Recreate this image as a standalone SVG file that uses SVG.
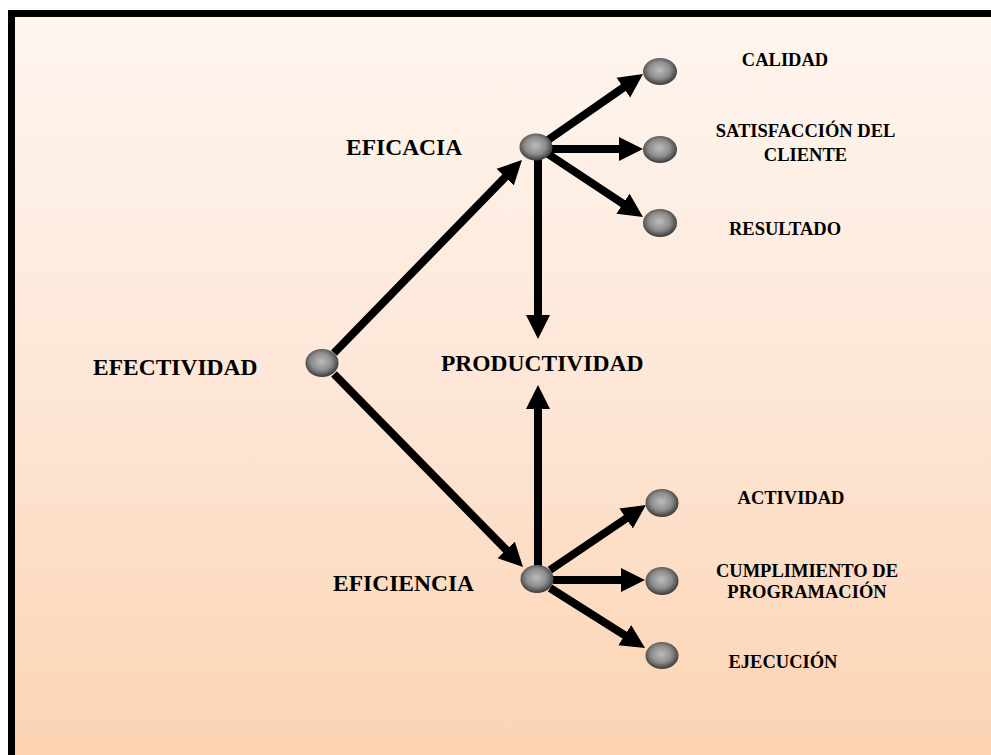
<svg xmlns="http://www.w3.org/2000/svg" width="991" height="755" viewBox="0 0 991 755">
  <defs>
    <linearGradient id="bg" x1="0" y1="0" x2="0" y2="1">
      <stop offset="0" stop-color="#FEF6F0"/>
      <stop offset="0.5" stop-color="#FDE6D6"/>
      <stop offset="1" stop-color="#FCD3B2"/>
    </linearGradient>
    <radialGradient id="ball" cx="0.48" cy="0.45" r="0.58">
      <stop offset="0" stop-color="#bdbdbd"/>
      <stop offset="0.55" stop-color="#8c8c8c"/>
      <stop offset="1" stop-color="#2e2e2e"/>
    </radialGradient>
    <marker id="ah" markerUnits="userSpaceOnUse" markerWidth="26" markerHeight="26" viewBox="0 -13 26 26" refX="4" refY="0" orient="auto">
      <path d="M0,-12 L24,0 L0,12 z" fill="#000"/>
    </marker>
    <style>
      .link { stroke: #000; stroke-width: 8; fill: none; marker-end: url(#ah); }
      .node { fill: url(#ball); }
      .big { font-family: "Liberation Serif", "Times New Roman", serif; font-weight: bold; font-size: 23.5px; fill: #000; }
      .small { font-family: "Liberation Serif", "Times New Roman", serif; font-weight: bold; font-size: 18.5px; fill: #000; text-anchor: middle; }
    </style>
  </defs>

  <!-- frame and background -->
  <rect x="8" y="10" width="1000" height="760" fill="#000"/>
  <rect x="15" y="17" width="990" height="750" fill="url(#bg)"/>

  <g id="connectors">
    <line class="link" x1="334" y1="353" x2="508" y2="174.3"/>
    <line class="link" x1="334" y1="374" x2="509" y2="552.7"/>
    <line class="link" x1="548" y1="140" x2="626.6" y2="85.4"/>
    <line class="link" x1="550" y1="149" x2="623" y2="149"/>
    <line class="link" x1="548" y1="154" x2="626.3" y2="205.9"/>
    <line class="link" x1="538" y1="158" x2="538" y2="319"/>
    <line class="link" x1="538" y1="567" x2="538" y2="405"/>
    <line class="link" x1="550" y1="570" x2="629.4" y2="516.2"/>
    <line class="link" x1="553" y1="580" x2="625" y2="580"/>
    <line class="link" x1="550" y1="588" x2="628.1" y2="637.3"/>
  </g>

  <g id="efectividad">
    <ellipse class="node" cx="322" cy="363" rx="16.5" ry="14"/>
    <text class="big" x="93" y="375">EFECTIVIDAD</text>
  </g>
  <g id="eficacia">
    <ellipse class="node" cx="536" cy="147" rx="16.5" ry="13.5"/>
    <text class="big" x="346" y="155">EFICACIA</text>
  </g>
  <g id="eficiencia">
    <ellipse class="node" cx="537" cy="579" rx="16.5" ry="14"/>
    <text class="big" x="333" y="591">EFICIENCIA</text>
  </g>
  <g id="productividad">
    <text class="big" x="441" y="371">PRODUCTIVIDAD</text>
  </g>
  <g id="calidad">
    <ellipse class="node" cx="660" cy="71.5" rx="17" ry="13.5"/>
    <text class="small" x="785" y="66">CALIDAD</text>
  </g>
  <g id="satisfaccion">
    <ellipse class="node" cx="660" cy="149.5" rx="17" ry="13.5"/>
    <text class="small" x="805.5" y="137">SATISFACCIÓN DEL</text>
    <text class="small" x="805.5" y="160.5">CLIENTE</text>
  </g>
  <g id="resultado">
    <ellipse class="node" cx="660" cy="223" rx="17" ry="14"/>
    <text class="small" x="785" y="235">RESULTADO</text>
  </g>
  <g id="actividad">
    <ellipse class="node" cx="662" cy="503" rx="16.5" ry="14"/>
    <text class="small" x="791" y="504">ACTIVIDAD</text>
  </g>
  <g id="cumplimiento">
    <ellipse class="node" cx="662" cy="581" rx="16.5" ry="14"/>
    <text class="small" x="807" y="576.5">CUMPLIMIENTO DE</text>
    <text class="small" x="807" y="598">PROGRAMACIÓN</text>
  </g>
  <g id="ejecucion">
    <ellipse class="node" cx="662" cy="655.5" rx="16.5" ry="13.5"/>
    <text class="small" x="783" y="668">EJECUCIÓN</text>
  </g>
</svg>
